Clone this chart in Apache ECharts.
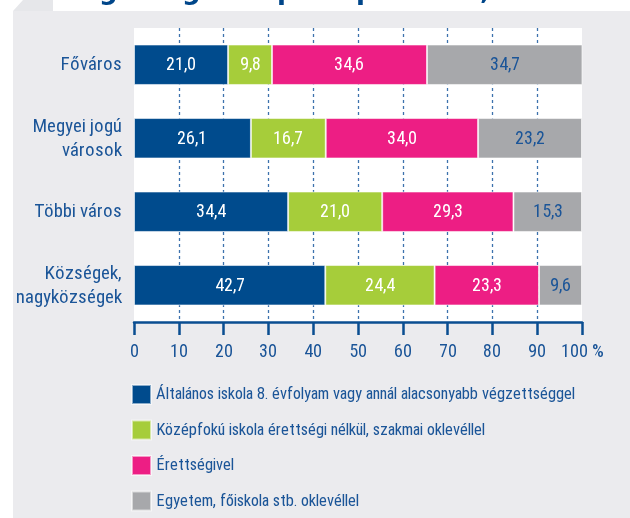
<!DOCTYPE html>
<html>
<head>
<meta charset="utf-8">
<script src="https://cdn.jsdelivr.net/npm/echarts@6/dist/echarts.min.js"></script>
<style>
@font-face{font-family:'RC';src:local('Roboto Condensed'),local('RobotoCondensed-Regular'),local('DejaVu Sans Condensed');}
html,body{margin:0;padding:0;background:#fff;}
#chart{width:630px;height:518px;}
</style>
</head>
<body>
<div id="chart"></div>
<script>
var categories = ['Főváros', 'Megyei jogú\nvárosok', 'Többi város', 'Községek,\nnagyközségek'];
var seriesNames = [
	'Általános iskola 8. évfolyam vagy annál alacsonyabb végzettséggel',
	'Középfokú iskola érettségi nélkül, szakmai oklevéllel',
	'Érettségivel',
	'Egyetem, főiskola stb. oklevéllel'
];
var elemi = [21.0, 26.1, 34.4, 42.7];
var szakmai = [9.8, 16.7, 21.0, 24.4];
var erettsegi = [34.6, 34.0, 29.3, 23.3];
var diploma = [34.7, 23.2, 15.3, 9.6];

var colors = ['#004b8d', '#a6cd3a', '#ed1e84', '#a7a8ab'];
var txtBlue = '#1b5598';
var font = 'RC, "DejaVu Sans", sans-serif';

function fmt(p){
	return p.value.toFixed(1).replace('.', ',');
}

function makeSeries(name, data, idx){
	return {
		name: name,
		type: 'bar',
		stack: 'total',
		data: data,
		barCategoryGap: '45%',
		itemStyle: {color: colors[idx], borderColor: 'rgba(255,255,255,0.55)', borderWidth: 1},
		label: {
			show: true,
			position: 'inside',
			formatter: fmt,
			color: idx == 3 ? txtBlue : '#fff',
			fontFamily: font,
			fontSize: 18
		},
		emphasis: {disabled: true}
	};
}

function draw(){
	var chart = echarts.init(document.getElementById('chart'));
	var option = {
		animation: false,
		color: colors,
		graphic: [
			{type: 'rect', z: -10, shape: {x: 13, y: 11, width: 617, height: 507}, style: {fill: '#ebebee'}},
			{type: 'polygon', z: -10, shape: {points: [[13, 11], [23, 0], [53, 0], [53, 11]]}, style: {fill: '#e6e7ea'}},
			// what is left of the cut-off title
			{type: 'text', z: -10, left: 99, top: -21, style: {text: 'g', fill: '#00468a', font: 'bold 26px "DejaVu Sans"'}},
			{type: 'text', z: -10, left: 182, top: -21, style: {text: 'g', fill: '#00468a', font: 'bold 26px "DejaVu Sans"'}},
			{type: 'text', z: -10, left: 277, top: -21, style: {text: 'p', fill: '#00468a', font: 'bold 26px "DejaVu Sans"'}},
			{type: 'text', z: -10, left: 356, top: -21, style: {text: 'p', fill: '#00468a', font: 'bold 26px "DejaVu Sans"'}},
			{type: 'text', z: -10, left: 480, top: -21, style: {text: ',', fill: '#00468a', font: 'bold 26px "DejaVu Sans"'}}
		],
		legend: {
			orient: 'vertical',
			left: 131,
			top: 384,
			padding: 0,
			itemWidth: 19,
			itemHeight: 19,
			itemGap: 14.5,
			icon: 'rect',
			data: seriesNames,
			textStyle: {color: txtBlue, fontFamily: font, fontSize: 16.5}
		},
		grid: {
			left: 134,
			right: 48,
			top: 28,
			bottom: 196,
			show: true,
			backgroundColor: '#fff',
			borderWidth: 0
		},
		xAxis: {
			type: 'value',
			min: 0,
			max: 100,
			interval: 10,
			axisLine: {show: true, lineStyle: {color: '#0a4e91', width: 2.5}},
			axisTick: {show: true, length: 13, lineStyle: {color: '#0a4e91', width: 2.5}},
			splitLine: {
				show: true,
				showMinLine: false,
				showMaxLine: false,
				lineStyle: {color: '#3d72ad', width: 1.3, type: [3, 3]}
			},
			axisLabel: {
				color: txtBlue,
				fontFamily: font,
				fontSize: 18,
				margin: 21,
				formatter: function(v){ return v == 100 ? '100 %' : v; }
			}
		},
		yAxis: {
			type: 'category',
			inverse: true,
			data: categories,
			axisLine: {show: false},
			axisTick: {show: false},
			axisLabel: {
				color: txtBlue,
				fontFamily: font,
				fontSize: 19,
				lineHeight: 24,
				margin: 12,
				align: 'right'
			}
		},
		series: [
			makeSeries(seriesNames[0], elemi, 0),
			makeSeries(seriesNames[1], szakmai, 1),
			makeSeries(seriesNames[2], erettsegi, 2),
			makeSeries(seriesNames[3], diploma, 3)
		]
	};
	chart.setOption(option);
}

document.fonts.load('18px RC').then(draw, draw);
</script>
</body>
</html>
